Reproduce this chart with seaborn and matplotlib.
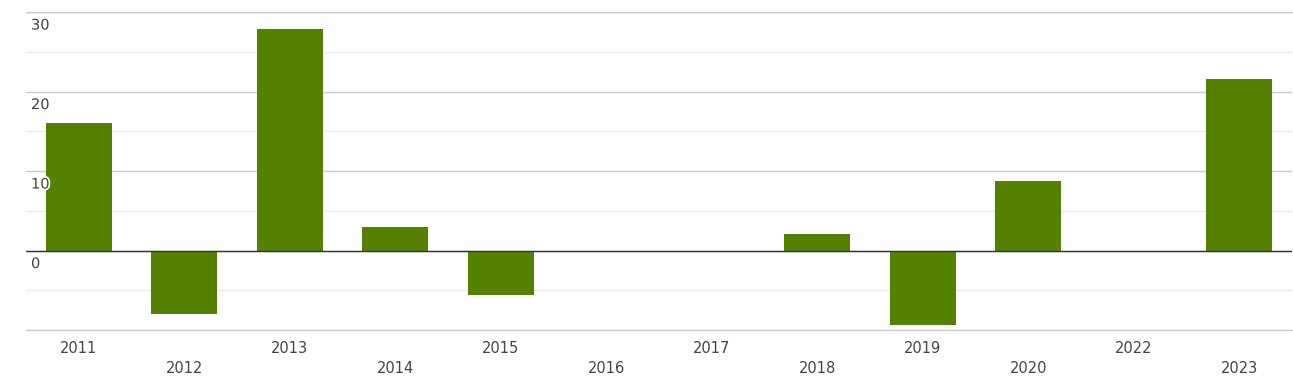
import matplotlib
matplotlib.use("Agg")
import matplotlib.pyplot as plt
import matplotlib.patheffects as pe
import matplotlib.transforms as mtransforms
from matplotlib.ticker import MultipleLocator
import seaborn as sns
import pandas as pd

years = ["2011", "2012", "2013", "2014", "2015", "2016", "2017", "2018", "2019", "2020", "2022", "2023"]
values = [16.1, -8.0, 27.9, 3.0, -5.6, 0.0, 0.0, 2.1, -9.4, 8.8, 0.0, 21.6]
y_ticks = [30, 20, 10, 0]

sns.set_theme(style="white")
plt.rcParams['font.family'] = ['DejaVu Sans']

W, H = 1293, 384
fig = plt.figure(figsize=(W / 100, H / 100), dpi=100)
ax = fig.add_axes([26 / W, (H - 330) / H, 1266 / W, 318 / H])

df = pd.DataFrame({"year": years, "value": values})
sns.barplot(data=df, x="year", y="value", color="#548200", saturation=1,
            width=0.63, linewidth=0, ax=ax, zorder=2)

ax.set_ylim(-10, 30)
ax.set_xlim(-0.5, len(years) - 0.5)
ax.yaxis.set_major_locator(MultipleLocator(10))
ax.yaxis.set_minor_locator(MultipleLocator(5))
ax.grid(axis="y", which="major", color="#cccccc", linewidth=1, zorder=0)
ax.grid(axis="y", which="minor", color="#ebebeb", linewidth=1, zorder=0)
ax.set_axisbelow(True)
ax.axhline(-10, color="#cccccc", linewidth=1, zorder=0, clip_on=False)
ax.axhline(30, color="#cccccc", linewidth=1, zorder=0, clip_on=False)
ax.axhline(0, color="#333333", linewidth=1, zorder=3)
for s in ax.spines.values():
    s.set_visible(False)

ax.set_xlabel("")
ax.set_ylabel("")
ax.tick_params(axis="y", which="both", left=False, labelleft=False)
ax.tick_params(axis="x", bottom=False, labelsize=10.5, labelcolor="#444444")
for i, t in enumerate(ax.xaxis.get_major_ticks()):
    t.set_pad(2 if i % 2 == 0 else 16.5)

trans = mtransforms.blended_transform_factory(ax.transAxes, ax.transData)
offset = mtransforms.ScaledTranslation(0, -4 / 72, fig.dpi_scale_trans)
for v in y_ticks:
    ax.text(5 / 1266, v, str(v), transform=trans + offset, ha="left", va="top",
            fontsize=10.5, color="#444444", zorder=4,
            path_effects=[pe.withStroke(linewidth=2.5, foreground="white")])

fig.savefig("out.png", dpi=100)
